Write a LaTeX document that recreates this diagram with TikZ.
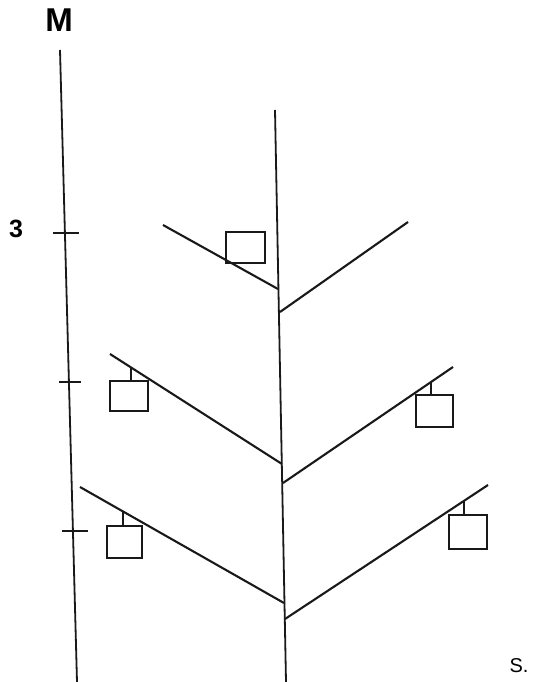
\documentclass[tikz,border=0pt]{standalone}
\usepackage{fontspec}
\setmainfont{Liberation Sans}
\usetikzlibrary{calc}
\begin{document}
\begin{tikzpicture}[x=1pt,y=-1pt,
  axisline/.style={line width=1.8pt, black!90},
  branch/.style={line width=2.1pt, black!90},
  tickline/.style={line width=1.7pt, black!90},
  potbox/.style={line width=2pt, black!90},
  hanger/.style={line width=1.8pt, black!90},
  bigbold/.style={font=\bfseries\fontsize{25}{25}\selectfont, inner sep=0pt},
  bigM/.style={font=\bfseries\fontsize{33}{33}\selectfont, inner sep=0pt},
  plain/.style={font=\fontsize{20}{20}\selectfont, inner sep=0pt}]
\useasboundingbox (0,0) rectangle (539,682);
% vertical axis
\coordinate (axT) at (60,50);
\coordinate (axB) at (77,682);
\draw[axisline] (axT) -- (axB);
% ticks
\coordinate (t1a) at (53,233); \coordinate (t1b) at (79,233);
\coordinate (t2a) at (59,382); \coordinate (t2b) at (81,382);
\coordinate (t3a) at (62,531); \coordinate (t3b) at (88,531);
\draw[tickline] (t1a) -- (t1b);
\draw[tickline] (t2a) -- (t2b);
\draw[tickline] (t3a) -- (t3b);
% labels
\node[bigM] (M) at (59,20) {M};
\node[bigbold] (three) at (16,229) {3};
\node[plain] (S) at (519,666) {S.};
% stem
\coordinate (stT) at (275,110);
\coordinate (stB) at (286,682);
\draw[axisline] (stT) -- (stB);
% top pair
\coordinate (b1L) at (163,225); \coordinate (j1L) at (278,289);
\coordinate (j1R) at (280,312); \coordinate (b1R) at (408,222);
\draw[branch] (b1L) -- (j1L);
\draw[branch] (j1R) -- (b1R);
\draw[potbox] (226,232) rectangle (265,263);
% middle pair
\coordinate (b2L) at (110,354); \coordinate (j2L) at (282,464);
\coordinate (j2R) at (283,483); \coordinate (b2R) at (453,367);
\draw[branch] (b2L) -- (j2L);
\draw[branch] (j2R) -- (b2R);
\coordinate (h2L) at ($(b2L)!0.122!(j2L)$);
\coordinate (h2R) at ($(j2R)!0.871!(b2R)$);
\draw[hanger] (h2L) -- (131,381);
\draw[potbox] (110,381) rectangle (148,411);
\draw[hanger] (h2R) -- (431,395);
\draw[potbox] (416,395) rectangle (453,427);
% bottom pair
\coordinate (b3L) at (80,487); \coordinate (j3L) at (284,603);
\coordinate (j3R) at (285,619); \coordinate (b3R) at (488,485);
\draw[branch] (b3L) -- (j3L);
\draw[branch] (j3R) -- (b3R);
\coordinate (h3L) at ($(b3L)!0.211!(j3L)$);
\coordinate (h3R) at ($(j3R)!0.882!(b3R)$);
\draw[hanger] (h3L) -- (123,526);
\draw[potbox] (107,526) rectangle (142,558);
\draw[hanger] (h3R) -- (464,515);
\draw[potbox] (449,515) rectangle (487,549);
\end{tikzpicture}
\end{document}
